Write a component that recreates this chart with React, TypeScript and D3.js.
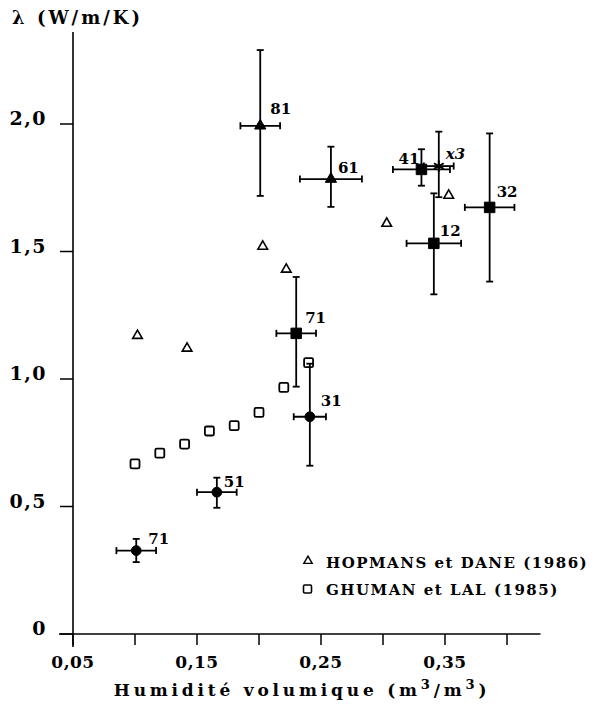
import * as d3 from 'd3';

// axis ticks
const xTickValues = [0.05, 0.1, 0.15, 0.2, 0.25, 0.3, 0.35, 0.4];
const xTickLabels = ['0,05', '', '0,15', '', '0,25', '', '0,35', ''];
const yTickValues = [0, 0.5, 1.0, 1.5, 2.0];
const yTickLabels = ['0', '0,5', '1,0', '1,5', '2,0'];

// HOPMANS et DANE (1986) - open triangles
const hopmansX = [0.102, 0.142, 0.203, 0.222, 0.303, 0.353];
const hopmansY = [1.17, 1.12, 1.52, 1.43, 1.61, 1.72];

// GHUMAN et LAL (1985) - open squares
const ghumanX = [0.1, 0.12, 0.14, 0.16, 0.18, 0.2, 0.22, 0.24];
const ghumanY = [0.667, 0.709, 0.745, 0.796, 0.817, 0.869, 0.967, 1.064];

// measured points with error bars
const measLabels = ['81', '61', '41', 'x3', '12', '32', '71', '31', '51', '71'];
const measShapes = ['triangle', 'triangle', 'square', 'star', 'square', 'square', 'square', 'circle', 'circle', 'circle'];
const measX = [0.201, 0.258, 0.331, 0.345, 0.341, 0.386, 0.23, 0.241, 0.166, 0.101];
const measY = [1.993, 1.784, 1.822, 1.835, 1.532, 1.673, 1.179, 0.852, 0.556, 0.327];
const measXErr = [0.016, 0.025, 0.023, 0.012, 0.022, 0.02, 0.016, 0.013, 0.016, 0.016];
const measYLow = [1.718, 1.675, 1.758, 1.713, 1.332, 1.382, 0.97, 0.66, 0.495, 0.282];
const measYHigh = [2.29, 1.911, 1.901, 1.97, 1.728, 1.963, 1.4, 1.06, 0.613, 0.373];

// label placement (px, relative to marker)
const labelDx = [10, 7, -2, 7, 6, 7, 9, 11, 7, 12];
const labelDy = [-12, -6, -5, -7, -7, -10, -10, -11, -5, -7];
const labelAnchor = ['start', 'start', 'end', 'start', 'start', 'start', 'start', 'start', 'start', 'start'];

const FONT = '"DejaVu Serif", serif';

export default function App() {
  const W = 603;
  const H = 718;

  const x = d3.scaleLinear().domain([0.05, 0.4]).range([73, 507]);
  const y = d3.scaleLinear().domain([0, 2]).range([634, 124]);

  const tri = d3.symbol().type(d3.symbolTriangle);
  const sq = d3.symbol().type(d3.symbolSquare);
  const circ = d3.symbol().type(d3.symbolCircle);
  const star = d3.symbol().type(d3.symbolAsterisk);

  const markerPath = (shape: string) => {
    if (shape === 'triangle') return tri.size(55)() || '';
    if (shape === 'square') return sq.size(110)() || '';
    if (shape === 'circle') return circ.size(75)() || '';
    return star.size(90)() || '';
  };

  const cap = 3.5;

  return (
    <svg width={W} height={H} style={{ position: 'absolute', left: 0, top: 0, background: '#fff' }}>
      {/* axes */}
      <line x1={x(0.05)} x2={x(0.05)} y1={y(0) + 13} y2={32} stroke="#000" strokeWidth={1.6} />
      <line x1={x(0.05) - 14} x2={x(0.427)} y1={y(0)} y2={y(0)} stroke="#000" strokeWidth={1.6} />

      {xTickValues.map((v, i) => (
        <g key={'xt' + i}>
          <line x1={x(v)} x2={x(v)} y1={y(0)} y2={y(0) + 11} stroke="#000" strokeWidth={1.5} />
          {xTickLabels[i] && (
            <text x={x(v)} y={y(0) + 34} textAnchor="middle" fontFamily={FONT} fontWeight="bold" fontSize={17}
              letterSpacing={0.5}>
              {xTickLabels[i]}
            </text>
          )}
        </g>
      ))}

      {yTickValues.map((v, i) => (
        <g key={'yt' + i}>
          <line x1={x(0.05) - 13} x2={x(0.05)} y1={y(v)} y2={y(v)} stroke="#000" strokeWidth={1.5} />
          <text x={47} y={y(v) + 1} textAnchor="end" fontFamily={FONT} fontWeight="bold" fontSize={19}
            letterSpacing={1.5}>
            {yTickLabels[i]}
          </text>
        </g>
      ))}

      {/* axis titles */}
      <text x={12} y={24} fontFamily={FONT} fontWeight="bold" fontSize={18} letterSpacing={3}>
        λ  (W/m/K)
      </text>
      <text x={302} y={696} textAnchor="middle" fontFamily={FONT} fontWeight="bold" fontSize={17} letterSpacing={3.8}>
        Humidité volumique (m<tspan dy={-7} fontSize={13}>3</tspan><tspan dy={7}>/m</tspan><tspan dy={-7} fontSize={13}>3</tspan><tspan dy={7}>)</tspan>
      </text>

      {/* GHUMAN squares */}
      {ghumanX.map((v, i) => (
        <rect key={'g' + i} x={x(v) - 4.5} y={y(ghumanY[i]) - 4.5} width={9} height={9} rx={1.5}
          fill="#fff" stroke="#000" strokeWidth={1.8} />
      ))}

      {/* HOPMANS triangles */}
      {hopmansX.map((v, i) => (
        <path key={'h' + i} d={tri.size(40)() || ''} transform={`translate(${x(v)},${y(hopmansY[i])})`}
          fill="#fff" stroke="#000" strokeWidth={1.6} />
      ))}

      {/* measured points with error bars */}
      {measX.map((v, i) => {
        const cx = x(v);
        const cy = y(measY[i]);
        const x0 = x(v - measXErr[i]);
        const x1 = x(v + measXErr[i]);
        const y0 = y(measYLow[i]);
        const y1 = y(measYHigh[i]);
        const shape = measShapes[i];
        return (
          <g key={'m' + i}>
            <line x1={cx} x2={cx} y1={y0} y2={y1} stroke="#000" strokeWidth={1.8} />
            <line x1={cx - cap} x2={cx + cap} y1={y0} y2={y0} stroke="#000" strokeWidth={1.8} />
            <line x1={cx - cap} x2={cx + cap} y1={y1} y2={y1} stroke="#000" strokeWidth={1.8} />
            <line x1={x0} x2={x1} y1={cy} y2={cy} stroke="#000" strokeWidth={1.8} />
            <line x1={x0} x2={x0} y1={cy - cap} y2={cy + cap} stroke="#000" strokeWidth={1.8} />
            <line x1={x1} x2={x1} y1={cy - cap} y2={cy + cap} stroke="#000" strokeWidth={1.8} />
            <path d={markerPath(shape)} transform={`translate(${cx},${cy})`}
              fill="#000" stroke="#000" strokeWidth={shape === 'star' ? 2 : 1} />
            <text x={cx + labelDx[i]} y={cy + labelDy[i]} textAnchor={labelAnchor[i]}
              fontFamily={FONT} fontWeight="bold" fontSize={15}
              fontStyle={measLabels[i] === 'x3' ? 'italic' : 'normal'}>
              {measLabels[i]}
            </text>
          </g>
        );
      })}

      {/* legend */}
      <g>
        <path d={tri.size(30)() || ''} transform="translate(308,561)" fill="#fff" stroke="#000" strokeWidth={1.4} />
        <text x={326} y={568} fontFamily={FONT} fontWeight="bold" fontSize={15} letterSpacing={1.5}>HOPMANS et DANE (1986)</text>
        <rect x={303.5} y={585} width={8} height={8} rx={1.2} fill="#fff" stroke="#000" strokeWidth={1.6} />
        <text x={326} y={595} fontFamily={FONT} fontWeight="bold" fontSize={15} letterSpacing={1.5}>GHUMAN et LAL (1985)</text>
      </g>
    </svg>
  );
}
